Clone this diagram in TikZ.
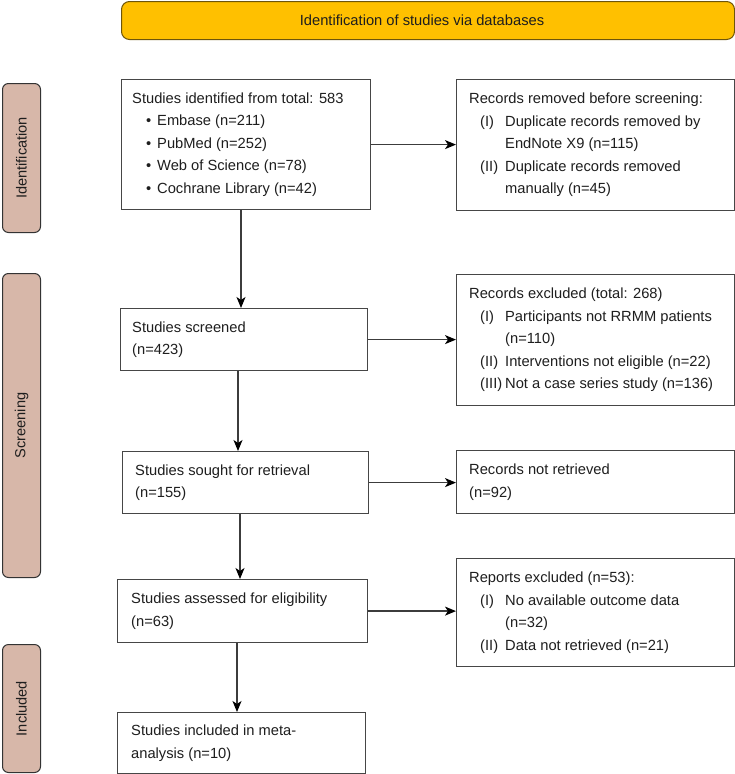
\documentclass[tikz,border=0pt]{standalone}
\usepackage{fontspec}
\setmainfont{Liberation Sans}
\usetikzlibrary{arrows.meta,calc}
\definecolor{banner}{RGB}{255,192,0}
\definecolor{bannerdraw}{RGB}{110,85,10}
\definecolor{side}{RGB}{215,183,169}
\definecolor{boxc}{RGB}{70,70,70}
\definecolor{txt}{RGB}{30,30,30}
\definecolor{linec}{RGB}{60,60,60}
\newcommand{\bul}{\hspace*{14pt}\makebox[11pt][l]{\textbullet}}
\newcommand{\itm}[1]{\hspace*{11pt}\makebox[25pt][l]{#1}}
\newcommand{\cnt}{\hspace*{36pt}}
\begin{document}
\begin{tikzpicture}[x=1pt,y=-1pt,
 box/.style={draw=boxc, line width=1.2pt, inner sep=0pt, anchor=north west, fill=white},
 boxtext/.style={anchor=west, align=left, inner sep=0pt, text=txt, font=\fontsize{14.7}{22.5}\selectfont},
 sidebar/.style={draw=black!80, fill=side, line width=1pt, rounded corners=6pt, inner sep=0pt, anchor=north west},
 sidetext/.style={rotate=90, text=txt, inner sep=0pt, font=\fontsize{14.6}{17}\selectfont},
 arr/.style={draw=linec, line width=1.3pt, -{Stealth[length=11pt,width=9pt,inset=3pt,color=black]}}
]
\useasboundingbox (0,0) rectangle (735,774);

% banner
\node[draw=bannerdraw, fill=banner, line width=1pt, rounded corners=8pt, minimum width=613pt, minimum height=38pt, inner sep=0pt, anchor=north west] (ban) at (121,1) {};
\node[text=txt, inner sep=0pt, font=\fontsize{14.7}{18}\selectfont] (bant) at (422,20) {Identification of studies via databases};

% side bars
\node[sidebar, minimum width=38pt, minimum height=149pt] (s1) at (2,83) {};
\node[sidetext] (s1t) at (s1.center) {Identification};
\node[sidebar, minimum width=38pt, minimum height=304pt] (s2) at (2,273) {};
\node[sidetext] (s2t) at (s2.center) {Screening};
\node[sidebar, minimum width=38pt, minimum height=128pt] (s3) at (2,644) {};
\node[sidetext] (s3t) at (s3.center) {Included};

% left column
\node[box, minimum width=249pt, minimum height=130pt] (b1) at (121,79) {};
\node[boxtext] (t1) at ([xshift=11pt]b1.west) {Studies identified from total: 583\\
\bul Embase (n=211)\\
\bul PubMed (n=252)\\
\bul Web of Science (n=78)\\
\bul Cochrane Library (n=42)};

\node[box, minimum width=247pt, minimum height=62pt] (b2) at (120,308) {};
\node[boxtext] (t2) at ([xshift=12pt]b2.west) {Studies screened\\(n=423)};

\node[box, minimum width=246pt, minimum height=62pt] (b3) at (122,451) {};
\node[boxtext] (t3) at ([xshift=13pt]b3.west) {Studies sought for retrieval\\(n=155)};

\node[box, minimum width=250pt, minimum height=63pt] (b4) at (117,579) {};
\node[boxtext] (t4) at ([xshift=14pt]b4.west) {Studies assessed for eligibility\\(n=63)};

\node[box, minimum width=248pt, minimum height=61pt] (b5) at (117,712) {};
\node[boxtext] (t5) at ([xshift=14pt]b5.west) {Studies included in meta-\\analysis (n=10)};

% right column
\node[box, minimum width=278pt, minimum height=131pt] (r1) at (456,79) {};
\node[boxtext] (u1) at ([xshift=13pt]r1.west) {Records removed before screening:\\
\itm{(I)}Duplicate records removed by\\
\cnt EndNote X9 (n=115)\\
\itm{(II)}Duplicate records removed\\
\cnt manually (n=45)};

\node[box, minimum width=278pt, minimum height=131pt] (r2) at (456,274) {};
\node[boxtext] (u2) at ([xshift=13pt]r2.west) {Records excluded (total: 268)\\
\itm{(I)}Participants not RRMM patients\\
\cnt (n=110)\\
\itm{(II)}Interventions not eligible (n=22)\\
\itm{(III)}Not a case series study (n=136)};

\node[box, minimum width=278pt, minimum height=63pt] (r3) at (456,450) {};
\node[boxtext] (u3) at ([xshift=13pt]r3.west) {Records not retrieved\\(n=92)};

\node[box, minimum width=278pt, minimum height=108pt] (r4) at (456,558) {};
\node[boxtext] (u4) at ([xshift=13pt]r4.west) {Reports excluded (n=53):\\
\itm{(I)}No available outcome data\\
\cnt (n=32)\\
\itm{(II)}Data not retrieved (n=21)};

% connectors
\draw[arr] ([xshift=120pt]b1.south west) -- ([xshift=120pt]b1.south west |- b2.north);
\draw[arr] ([xshift=118pt]b2.south west) -- ([xshift=118pt]b2.south west |- b3.north);
\draw[arr] ([xshift=118pt]b3.south west) -- ([xshift=118pt]b3.south west |- b4.north);
\draw[arr] ([xshift=120pt]b4.south west) -- ([xshift=120pt]b4.south west |- b5.north);

\draw[arr] (b1.east) -- (b1.east -| r1.west);
\draw[arr] (b2.east) -- (b2.east -| r2.west);
\draw[arr] (b3.east) -- (b3.east -| r3.west);
\draw[arr] (b4.east) -- (b4.east -| r4.west);
\end{tikzpicture}
\end{document}
